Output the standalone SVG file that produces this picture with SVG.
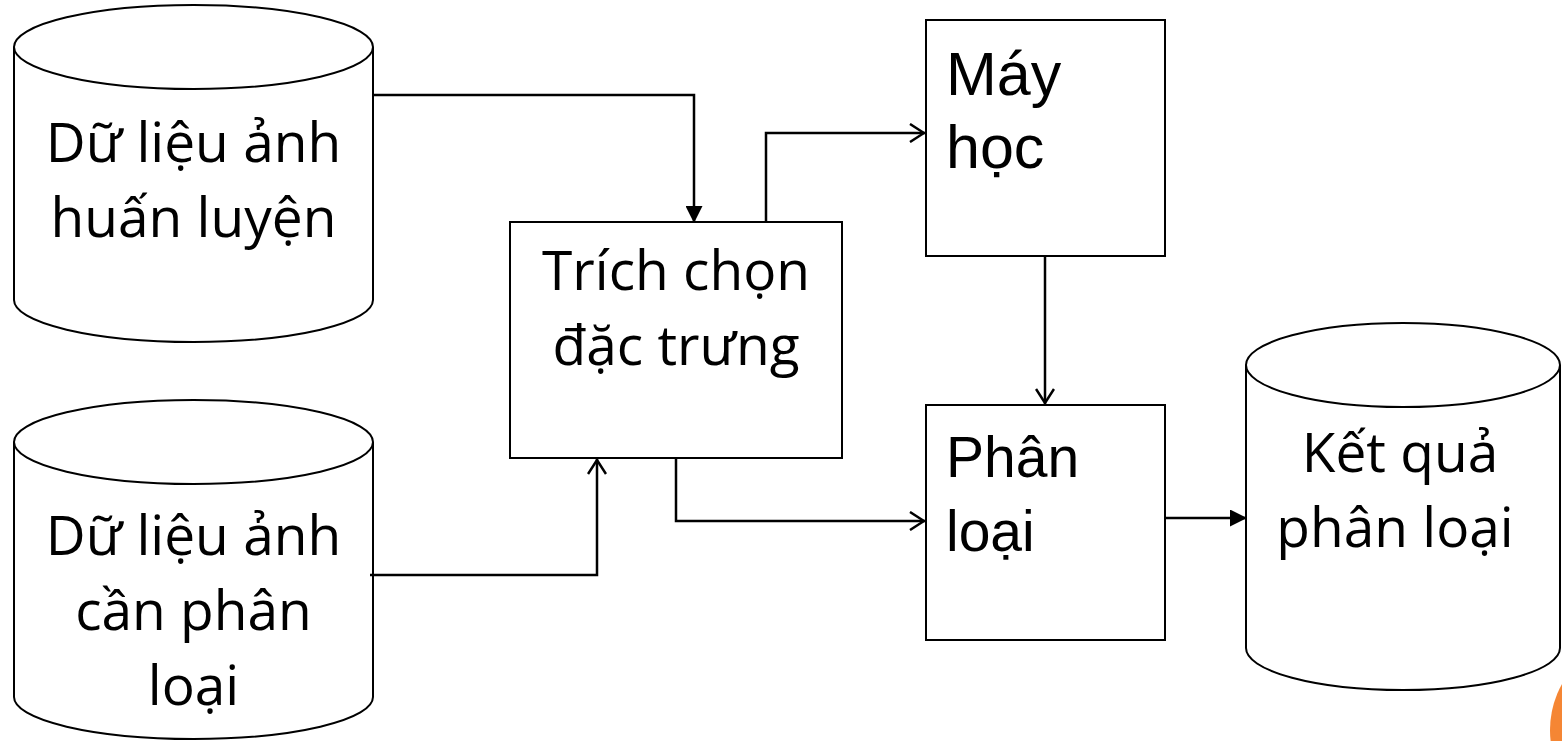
<svg xmlns="http://www.w3.org/2000/svg" width="1562" height="741" viewBox="0 0 1562 741">
<defs>
<style>
.shape{fill:#fff;stroke:#000;stroke-width:2}
.conn{fill:none;stroke:#000;stroke-width:2.5}
.cal{font-family:"Open Sans","Noto Sans",sans-serif;font-size:55px;fill:#000;text-anchor:middle}
.ari{font-family:"Liberation Sans",Arial,sans-serif;font-size:61px;fill:#000}
.ari2{font-family:"Liberation Sans",Arial,sans-serif;font-size:57px;fill:#000}
</style>
<marker id="fill" viewBox="0 0 17 17" refX="16" refY="8.5" markerWidth="17" markerHeight="17" markerUnits="userSpaceOnUse" orient="auto">
<path d="M0,0 L17,8.5 L0,17 Z" fill="#000"/>
</marker>
<marker id="open" viewBox="0 0 20 20" refX="20" refY="10" markerWidth="20" markerHeight="20" markerUnits="userSpaceOnUse" orient="auto">
<path d="M5,1 L19,10 L5,19" fill="none" stroke="#000" stroke-width="2.5"/>
</marker>
</defs>
<rect width="1562" height="741" fill="#fff"/>
<g id="cyl-train">
<path class="shape" d="M14,47 L14,300 A179.5,42 0 0 0 373,300 L373,47"/>
<ellipse class="shape" cx="193.5" cy="47" rx="179.5" ry="42"/>
<text class="cal" x="193.5" y="162">Dữ liệu ảnh</text>
<text class="cal" x="193.5" y="237">huấn luyện</text>
</g>
<g id="cyl-input">
<path class="shape" d="M14,442 L14,697 A179.5,42 0 0 0 373,697 L373,442"/>
<ellipse class="shape" cx="193.5" cy="442" rx="179.5" ry="42"/>
<text class="cal" x="193.5" y="555">Dữ liệu ảnh</text>
<text class="cal" x="193.5" y="630">cần phân</text>
<text class="cal" x="193.5" y="705">loại</text>
</g>
<g id="feature">
<rect class="shape" x="510" y="222" width="332" height="236"/>
<text class="cal" x="676" y="290">Trích chọn</text>
<text class="cal" x="676" y="365">đặc trưng</text>
</g>
<g id="ml">
<rect class="shape" x="926" y="20" width="239" height="236"/>
<text class="ari" x="946" y="95">Máy</text>
<text class="ari" x="946" y="168">học</text>
</g>
<g id="classify">
<rect class="shape" x="926" y="405" width="239" height="235"/>
<text class="ari2" x="946" y="477">Phân</text>
<text class="ari2" x="946" y="551">loại</text>
</g>
<g id="cyl-result">
<path class="shape" d="M1246,365 L1246,648 A157,42 0 0 0 1560,648 L1560,365"/>
<ellipse class="shape" cx="1403" cy="365" rx="157" ry="42"/>
<text class="cal" x="1400" y="472">Kết quả</text>
<text class="cal" x="1395" y="547">phân loại</text>
</g>
<g id="connectors">
<path class="conn" d="M373,95 L694,95 L694,222" marker-end="url(#fill)"/>
<path class="conn" d="M370,575 L597,575 L597,459" marker-end="url(#open)"/>
<path class="conn" d="M766,222 L766,133 L925,133" marker-end="url(#open)"/>
<path class="conn" d="M1045,256 L1045,404" marker-end="url(#open)"/>
<path class="conn" d="M676,458 L676,521 L925,521" marker-end="url(#open)"/>
<path class="conn" d="M1165,518 L1246,518" marker-end="url(#fill)"/>
</g>
<circle cx="1644" cy="730" r="94" fill="#F58634"/>
</svg>
